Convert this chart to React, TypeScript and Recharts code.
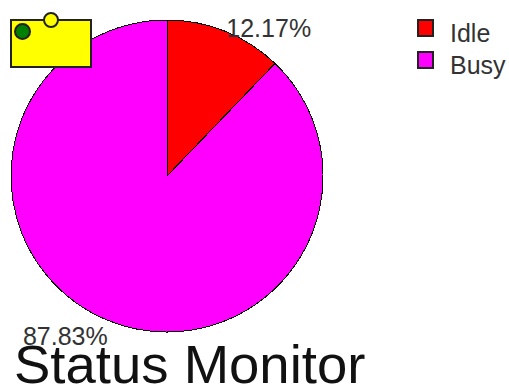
import { Cell, Customized, Legend, Pie, PieChart } from 'recharts'

const stateNames = ['Idle', 'Busy']
const stateShares = [12.17, 87.83]
const sliceColors = ['#ff0000', '#ff00ff']
const chartTitle = 'Status Monitor'

const data = stateNames.map((name, i) => ({ name, value: stateShares[i] }))

const FONT = '"Liberation Sans", Arial, sans-serif'
const RADIAN = Math.PI / 180

// percent labels sit just outside the rim, right half anchored at start, left half at end
function renderLabel({ cx, cy, midAngle, outerRadius, value }: any) {
  const x = cx + (outerRadius + 3) * Math.cos(-midAngle * RADIAN)
  const y = cy + (outerRadius + 3) * Math.sin(-midAngle * RADIAN)
  const isRight = x > cx
  return (
    <text
      x={x}
      y={isRight ? y + 9 : y + 21}
      textAnchor={isRight ? 'start' : 'end'}
      fontFamily={FONT}
      fontSize={25}
      fill="#333"
    >
      {value.toFixed(2)}%
    </text>
  )
}

function renderLegend() {
  return (
    <div style={{ fontFamily: FONT, fontSize: 25, color: '#333' }}>
      {data.map((entry, i) => (
        <div key={entry.name} style={{ display: 'flex', alignItems: 'center', height: 32 }}>
          <span
            style={{
              display: 'inline-block',
              boxSizing: 'border-box',
              width: 17,
              height: 18,
              marginRight: 16,
              background: sliceColors[i],
              border: '2px solid #222',
            }}
          />
          <span style={{ position: 'relative', top: 5 }}>{entry.name}</span>
        </div>
      ))}
    </div>
  )
}

// yellow tag in the corner sits on top of the pie
function Badge() {
  return (
    <svg width={509} height={387} style={{ position: 'absolute', left: 0, top: 0, pointerEvents: 'none' }}>
      <g stroke="#222" strokeWidth={2}>
        <rect x={11} y={20} width={80} height={47} fill="#ffff00" />
        <circle cx={22.5} cy={31.5} r={7.5} fill="#008000" />
        <circle cx={51} cy={20} r={7} fill="#ffff00" />
      </g>
    </svg>
  )
}

function Title() {
  return (
    <text x={14} y={383} fontFamily={FONT} fontSize={54.5} fill="#111">
      {chartTitle}
    </text>
  )
}

export default function App() {
  return (
    <div style={{ position: 'absolute', left: 0, top: 0, width: 509, height: 387, background: '#fff' }}>
      <PieChart width={509} height={387} margin={{ top: 0, right: 0, bottom: 0, left: 0 }}>
        <Pie
          data={data}
          dataKey="value"
          nameKey="name"
          cx={167}
          cy={176}
          outerRadius={156}
          startAngle={90}
          endAngle={-270}
          stroke="#000"
          strokeWidth={1}
          shapeRendering="crispEdges"
          label={renderLabel}
          labelLine={false}
          isAnimationActive={false}
        >
          {data.map((entry, i) => (
            <Cell key={entry.name} fill={sliceColors[i]} />
          ))}
        </Pie>
        <Legend
          content={renderLegend}
          layout="vertical"
          wrapperStyle={{ position: 'absolute', left: 417, top: 12, width: 92, bottom: 'auto' }}
        />
        <Customized component={Title} />
      </PieChart>
      <Badge />
    </div>
  )
}
